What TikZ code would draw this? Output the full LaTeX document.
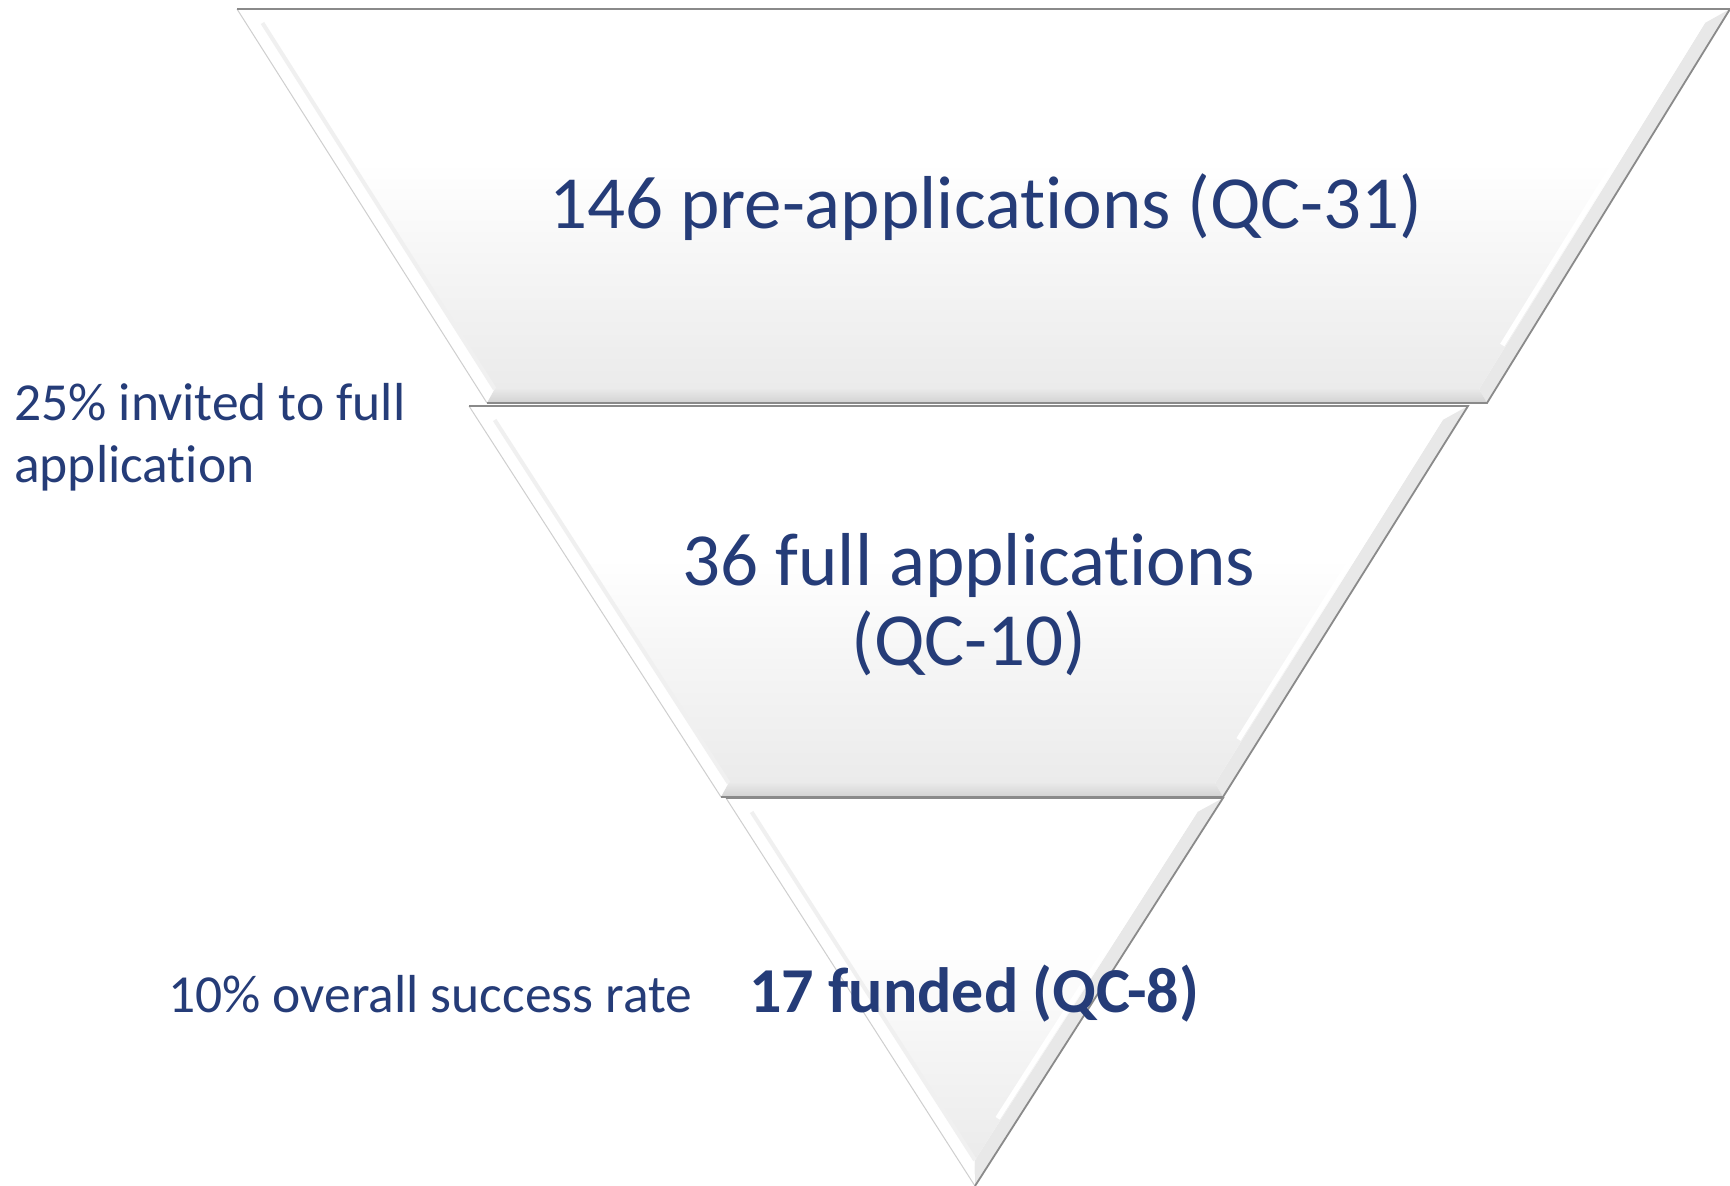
\documentclass[tikz,border=0pt]{standalone}
\usepackage{fontspec}
\setmainfont{Carlito}[Ligatures={NoCommon,NoContextual,NoRequired}, RawFeature={-liga;-clig;-calt;-dlig;-rlig}]
\usetikzlibrary{calc}
\definecolor{navy}{HTML}{253C78}
\definecolor{edgedark}{HTML}{8A8A8A}
\definecolor{edgelight}{HTML}{CFCFCF}
\definecolor{facebot}{HTML}{EBEBEB}
\definecolor{facemid}{HTML}{F4F4F4}
\definecolor{rightbev}{HTML}{E8E8E8}
\definecolor{botbevA}{HTML}{E9E9E9}
\definecolor{botbevB}{HTML}{D2D2D2}
\pgfdeclareverticalshading{facesh}{100bp}{color(0bp)=(facebot); color(25bp)=(facebot); color(40bp)=(facemid); color(56bp)=(white); color(100bp)=(white)}
\def\bd{14}
% #1 x1, #2 x2, #3 y1 (top edge), #4 x3, #5 x4, #6 y2 (bottom edge), #7 name
\newcommand{\bevelshape}[7]{%
  \pgfmathsetmacro\bsL{(#4-#1)/(#6-#3)}%
  \pgfmathsetmacro\bsR{(#5-#2)/(#6-#3)}%
  \pgfmathsetmacro\bhL{\bd*sqrt(1+\bsL*\bsL)}%
  \pgfmathsetmacro\bhR{\bd*sqrt(1+\bsR*\bsR)}%
  \pgfmathsetmacro\byc{#3+(#2-#1-\bhL-\bhR)/(\bsL-\bsR)}%
  \pgfmathsetmacro\ybot{min(#6-\bd,\byc)}%
  \pgfmathsetmacro\ytop{#3+\bd}%
  \pgfmathsetmacro\xtl{#1+\bhL+\bsL*\bd}%
  \pgfmathsetmacro\xtr{#2-\bhR+\bsR*\bd}%
  \pgfmathsetmacro\xbl{#1+\bhL+\bsL*(\ybot-#3)}%
  \pgfmathsetmacro\xbr{#2-\bhR+\bsR*(\ybot-#3)}%
  \coordinate (#7-A) at (#1,#3);
  \coordinate (#7-B) at (#2,#3);
  \coordinate (#7-C) at (#5,#6);
  \coordinate (#7-D) at (#4,#6);
  \coordinate (#7-a) at (\xtl,\ytop);
  \coordinate (#7-b) at (\xtr,\ytop);
  \coordinate (#7-c) at (\xbr,\ybot);
  \coordinate (#7-d) at (\xbl,\ybot);
  % bevel strips
  \fill[white] (#7-A) -- (#7-B) -- (#7-b) -- (#7-a) -- cycle;
  \fill[white] (#7-A) -- (#7-a) -- (#7-d) -- (#7-D) -- cycle;
  \fill[rightbev] (#7-B) -- (#7-C) -- (#7-c) -- (#7-b) -- cycle;
  \shade[top color=botbevA, bottom color=botbevB] (#7-D) -- (#7-d) -- (#7-c) -- (#7-C) -- cycle;
  % face
  \shade[shading=facesh] (#7-a) -- (#7-b) -- (#7-c) -- (#7-d) -- cycle;
  % soft inner shading lines
  \draw[gray!12, line width=4pt] (#7-a) -- (#7-d);
  \draw[white, line width=5pt] ($(#7-b)!0.12!(#7-c)+(-4,0)$) -- ($(#7-b)!0.88!(#7-c)+(-4,0)$);
  % outline
  \draw[edgelight, line width=1pt] (#7-A) -- (#7-D);
  \draw[edgedark, line width=1.8pt, line join=miter] (#7-A) -- (#7-B) -- (#7-C) -- (#7-D);
}
\tikzset{
  lbl/.style={text=navy, inner sep=0pt},
  bigtxt/.style={lbl, font=\fontsize{75}{90}\selectfont, anchor=base},
  sidetxt/.style={lbl, font=\fontsize{53.5}{62}\selectfont, anchor=base west},
  fundtxt/.style={lbl, font=\fontsize{64}{76}\selectfont\bfseries, anchor=base west}
}
\begin{document}
\begin{tikzpicture}[x=1pt,y=-1pt]
\useasboundingbox (0,0) rectangle (1730,1186);
\fill[white] (0,0) rectangle (1730,1186);

\bevelshape{237}{1730}{9}{487}{1487}{403}{s1}
\bevelshape{469}{1468}{406}{721}{1223}{797}{s2}
\bevelshape{726}{1223}{798}{975}{975}{1186}{s3}

\node[bigtxt] (t1) at (986,228) {146 pre-applications (QC-31)};
\node[bigtxt] (t2a) at (969,585) {36 full applications};
\node[bigtxt] (t2b) at (969,665) {(QC-10)};
\node[fundtxt] (t3) at (749,1012) {17 funded (QC-8)};
\node[sidetxt] (l1a) at (14,420) {25\% invited to full};
\node[sidetxt] (l1b) at (14,482) {application};
\node[sidetxt] (l2) at (168,1012) {10\% overall success rate};
\end{tikzpicture}
\end{document}
